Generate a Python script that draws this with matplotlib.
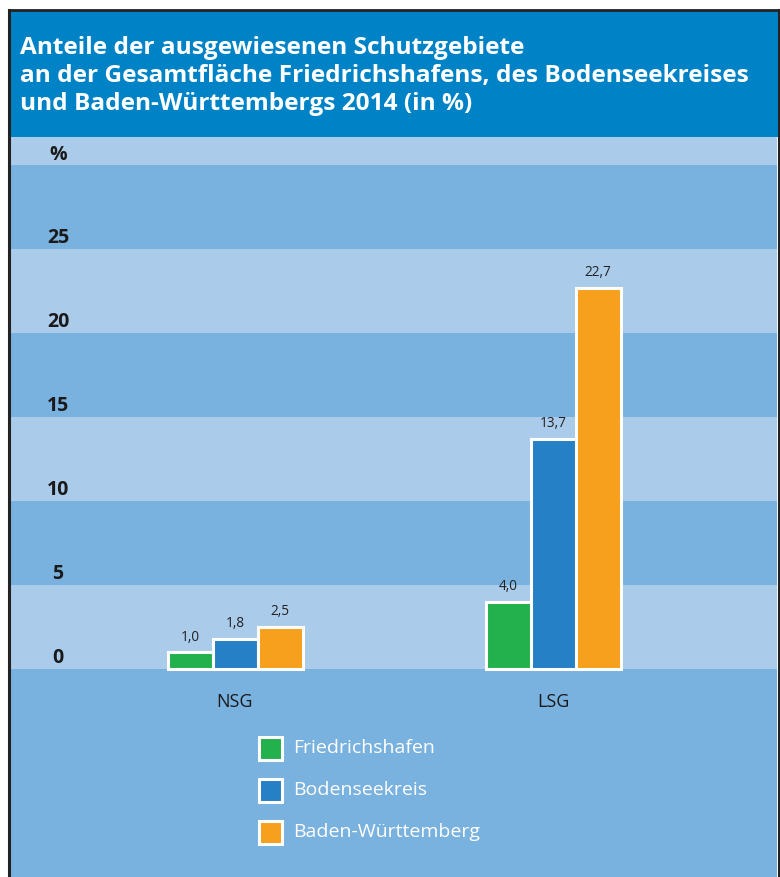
import matplotlib
matplotlib.use('Agg')
import matplotlib.pyplot as plt
from matplotlib.patches import Rectangle

# Daten
kategorien = ['NSG', 'LSG']
friedrichshafen = [1.0, 4.0]
bodenseekreis = [1.8, 13.7]
baden_wuerttemberg = [2.5, 22.7]
serien = ['Friedrichshafen', 'Bodenseekreis', 'Baden-Württemberg']
farben = ['#22b14c', '#2680c6', '#f7a01e']
y_ticks = [0, 5, 10, 15, 20, 25]

W, H = 780, 877
fig = plt.figure(figsize=(W / 100, H / 100), dpi=100)
fig.patch.set_facecolor('white')

def fx(px):
    return px / W

def fy(py):
    return 1 - py / H

# Titelbalken
fig.patches.append(Rectangle((fx(9), fy(137)), fx(778) - fx(9), fy(10) - fy(137),
                             transform=fig.transFigure, facecolor='#0083c6',
                             edgecolor='none', zorder=0))
titel_zeilen = ['Anteile der ausgewiesenen Schutzgebiete',
                'an der Gesamtfläche Friedrichshafens, des Bodenseekreises',
                'und Baden-Württembergs 2014 (in %)']
for i, zeile in enumerate(titel_zeilen):
    fig.text(fx(20), fy(48 + 28 * i), zeile, color='white', fontsize=17.6,
             fontweight='bold', family='Open Sans', va='center', ha='left')

# Diagrammbereich
px_per_unit = 16.8
zero_y = 669
center0, center1 = 235, 553
px_per_cat = center1 - center0
left, right, top, bottom = 10, 777, 137, 877
ax = fig.add_axes([fx(left), 0, fx(right) - fx(left), fy(top)])
ax.set_xlim((left - center0) / px_per_cat, (right - center0) / px_per_cat)
ax.set_ylim((zero_y - bottom) / px_per_unit, (zero_y - top) / px_per_unit)
ax.axis('off')

# Bänder
hell, mittel = '#abcbea', '#79b1df'
ax.axhspan(-20, 0, color=mittel, zorder=0, lw=0)
grenzen = y_ticks + [30, 40]
for i in range(len(grenzen) - 1):
    ax.axhspan(grenzen[i], grenzen[i + 1], color=hell if i % 2 == 0 else mittel, zorder=0, lw=0)

lx = (58 - center0) / px_per_cat
for t in y_ticks:
    ax.text(lx, t + 0.68, str(t), fontsize=14, fontweight='bold',
            family='Open Sans', color='#1a1a1a', ha='center', va='center')
ax.text(lx, 30 + 0.62, '%', fontsize=14, fontweight='bold',
        family='Open Sans', color='#1a1a1a', ha='center', va='center')

# Balken
breite = 45 / px_per_cat
werte = [friedrichshafen, bodenseekreis, baden_wuerttemberg]
for i, (name, vals, col) in enumerate(zip(serien, werte, farben)):
    xs = [k + (i - 1) * breite for k in range(len(kategorien))]
    ax.bar(xs, vals, width=breite, color=col, edgecolor='white', linewidth=2.2, zorder=3)
    for x, v in zip(xs, vals):
        ax.text(x, v + 0.45, f'{v:.1f}'.replace('.', ','), ha='center', va='bottom',
                fontsize=9.8, family='Open Sans', color='#222222')

for k, name in enumerate(kategorien):
    ax.text(k, (zero_y - 702) / px_per_unit, name, ha='center', va='center',
            fontsize=13, family='Open Sans', color='#1a1a1a')

# Legende
for i, (name, col) in enumerate(zip(serien, farben)):
    cy = 748 + 42 * i
    fig.patches.append(Rectangle((fx(259), fy(cy + 11.5)), fx(23), fy(cy - 11.5) - fy(cy + 11.5),
                                 transform=fig.transFigure, facecolor=col,
                                 edgecolor='white', linewidth=2.2, zorder=3))
    fig.text(fx(293), fy(cy), name, color='white', fontsize=14, family='Open Sans',
             va='center', ha='left')

# Rahmen
fig.lines.append(plt.Line2D([fx(9), fx(9)], [0, fy(10)], transform=fig.transFigure,
                            color='#222222', lw=2.2))
fig.lines.append(plt.Line2D([fx(9), fx(778.5)], [fy(10), fy(10)], transform=fig.transFigure,
                            color='#222222', lw=2))
fig.lines.append(plt.Line2D([fx(778.5), fx(778.5)], [0, fy(10)], transform=fig.transFigure,
                            color='#222222', lw=1.5))

fig.savefig('out.png', dpi=100)
plt.close(fig)
